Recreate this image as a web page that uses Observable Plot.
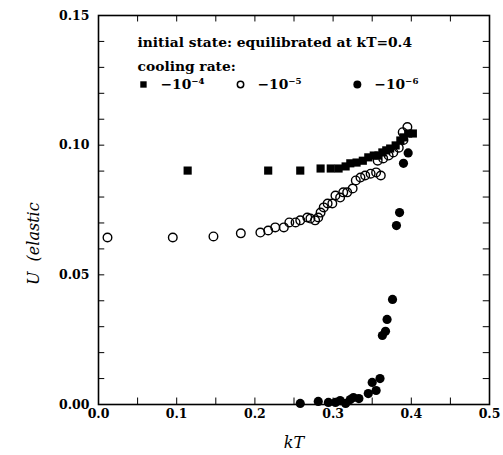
<!DOCTYPE html>
<html><head><meta charset="utf-8">
<script src="https://cdn.jsdelivr.net/npm/d3@7"></script>
<script src="https://cdn.jsdelivr.net/npm/@observablehq/plot@0.6"></script>
<style>body{margin:0;background:#fff}</style>
</head><body><div id="chart"></div>
<script>
// cooling rate -1e-4 (filled squares)
const sqKT = [0.114,0.217,0.258,0.284,0.297,0.307,0.316,0.322,0.330,0.338,0.345,0.352,0.358,0.363,0.368,0.373,0.380,0.386,0.390,0.396,0.402];
const sqU  = [0.0902,0.0902,0.0902,0.0910,0.0910,0.0910,0.0918,0.0930,0.0933,0.0940,0.0953,0.0960,0.0960,0.0972,0.0980,0.0987,0.0999,0.1018,0.1030,0.1045,0.1045];
// cooling rate -1e-5 (open circles)
const ocKT = [0.0115,0.095,0.147,0.182,0.207,0.217,0.226,0.237,0.244,0.252,0.258,0.267,0.271,0.277,0.281,0.284,0.288,0.293,0.299,0.303,0.309,0.313,0.318,0.325,0.329,0.335,0.341,0.348,0.355,0.361,0.357,0.364,0.371,0.377,0.384,0.390,0.389,0.395];
const ocU  = [0.0644,0.0644,0.0648,0.0660,0.0663,0.0671,0.0683,0.0683,0.0702,0.0702,0.0710,0.0721,0.0717,0.0710,0.0721,0.0740,0.0760,0.0775,0.0775,0.0806,0.0798,0.0818,0.0818,0.0833,0.0864,0.0875,0.0883,0.0890,0.0895,0.0883,0.0940,0.0949,0.0960,0.0972,0.0990,0.1020,0.1050,0.1070];
// cooling rate -1e-6 (filled circles)
const fcKT = [0.258,0.281,0.294,0.303,0.309,0.316,0.322,0.326,0.333,0.345,0.350,0.355,0.360,0.363,0.367,0.369,0.376,0.381,0.385,0.390,0.396];
const fcU  = [0.0004,0.0012,0.0008,0.0008,0.0015,0.0004,0.0019,0.0027,0.0023,0.0042,0.0085,0.0054,0.0100,0.0266,0.0282,0.0328,0.0405,0.0690,0.0740,0.0930,0.0970];

const xTicks = [0, 0.1, 0.2, 0.3, 0.4, 0.5];
const xMinor = [0,0.05,0.1,0.15,0.2,0.25,0.3,0.35,0.4,0.45,0.5];
const yTicks = [0, 0.05, 0.10, 0.15];
const yMinor = [0,0.01,0.02,0.03,0.04,0.05,0.06,0.07,0.08,0.09,0.10,0.11,0.12,0.13,0.14,0.15];

const legendLines = ["initial state: equilibrated at kT=0.4", "cooling rate:"];
const legendSeries = ["square", "open", "filled"];
const legendLabels = ["\u221210\u207B\u2074", "\u221210\u207B\u2075", "\u221210\u207B\u2076"];
const xLabel = "kT";
const yLabel = "U  (elastic";

const zip = (xs, ys) => xs.map((x, i) => ({kT: x, U: ys[i]}));
const squares = zip(sqKT, sqU), openC = zip(ocKT, ocU), filledC = zip(fcKT, fcU);

// legend layout (data coordinates)
const legX = [0.0575, 0.1816, 0.331];
const legRowU = 0.1234;
const legRows = legendLines.map((t, i) => ({t, kT: 0.05, U: [0.1396, 0.1303][i]}));
const legItems = legendSeries.map((s, i) => ({s, label: legendLabels[i], kT: legX[i], U: legRowU}));

const serif = "DejaVu Serif";
const chart = Plot.plot({
  width: 503, height: 455,
  marginLeft: 98, marginRight: 14, marginTop: 15, marginBottom: 51,
  style: {fontFamily: serif, fontWeight: "bold", fontSize: "12.5px", background: "white", color: "black"},
  x: {domain: [0, 0.5], ticks: xTicks, tickFormat: d => d.toFixed(1), tickSize: 0, tickPadding: 5, label: null},
  y: {domain: [0, 0.15], ticks: yTicks, tickFormat: d => d.toFixed(2), tickSize: 0, tickPadding: 9, label: null},
  marks: [
    Plot.frame({stroke: "black", strokeWidth: 1.6}),
    Plot.ruleX(xMinor, {x: d => d, y1: 0, y2: 0.0025, stroke: "black", strokeWidth: 1}),
    Plot.ruleX(xMinor, {x: d => d, y1: 0.15, y2: 0.1475, stroke: "black", strokeWidth: 1}),
    Plot.ruleY(yMinor, {y: d => d, x1: 0, x2: 0.008, stroke: "black", strokeWidth: 1}),
    Plot.ruleY(yMinor, {y: d => d, x1: 0.5, x2: 0.492, stroke: "black", strokeWidth: 1}),
    Plot.dot(openC, {x: "kT", y: "U", r: 4.3, stroke: "black", strokeWidth: 1.4, fill: "none"}),
    Plot.dot(squares, {x: "kT", y: "U", symbol: "square", r: 4.6, fill: "black"}),
    Plot.dot(filledC, {x: "kT", y: "U", r: 4.6, fill: "black"}),
    Plot.text(legRows, {x: "kT", y: "U", text: "t", textAnchor: "start", fontSize: 13.8, fontWeight: "bold"}),
    Plot.dot(legItems.filter(d => d.s === "square"), {x: "kT", y: "U", symbol: "square", r: 3.6, fill: "black"}),
    Plot.dot(legItems.filter(d => d.s === "open"), {x: "kT", y: "U", r: 3.2, stroke: "black", strokeWidth: 1.5, fill: "none"}),
    Plot.dot(legItems.filter(d => d.s === "filled"), {x: "kT", y: "U", r: 4, fill: "black"}),
    Plot.text(legItems, {x: "kT", y: "U", text: "label", textAnchor: "start", dx: 17, fontSize: 13.8, fontWeight: "bold"}),
    Plot.text([xLabel], {x: 0.25, y: 0, dy: 38, text: d => d, fontStyle: "italic", fontWeight: "normal", fontSize: 16, clip: false}),
    Plot.text([yLabel], {x: 0, y: 0.062, dx: -65, rotate: -90, text: d => d, fontStyle: "italic", fontWeight: "normal", fontSize: 16, clip: false})
  ]
});
document.getElementById("chart").appendChild(chart);
</script>
</body></html>
